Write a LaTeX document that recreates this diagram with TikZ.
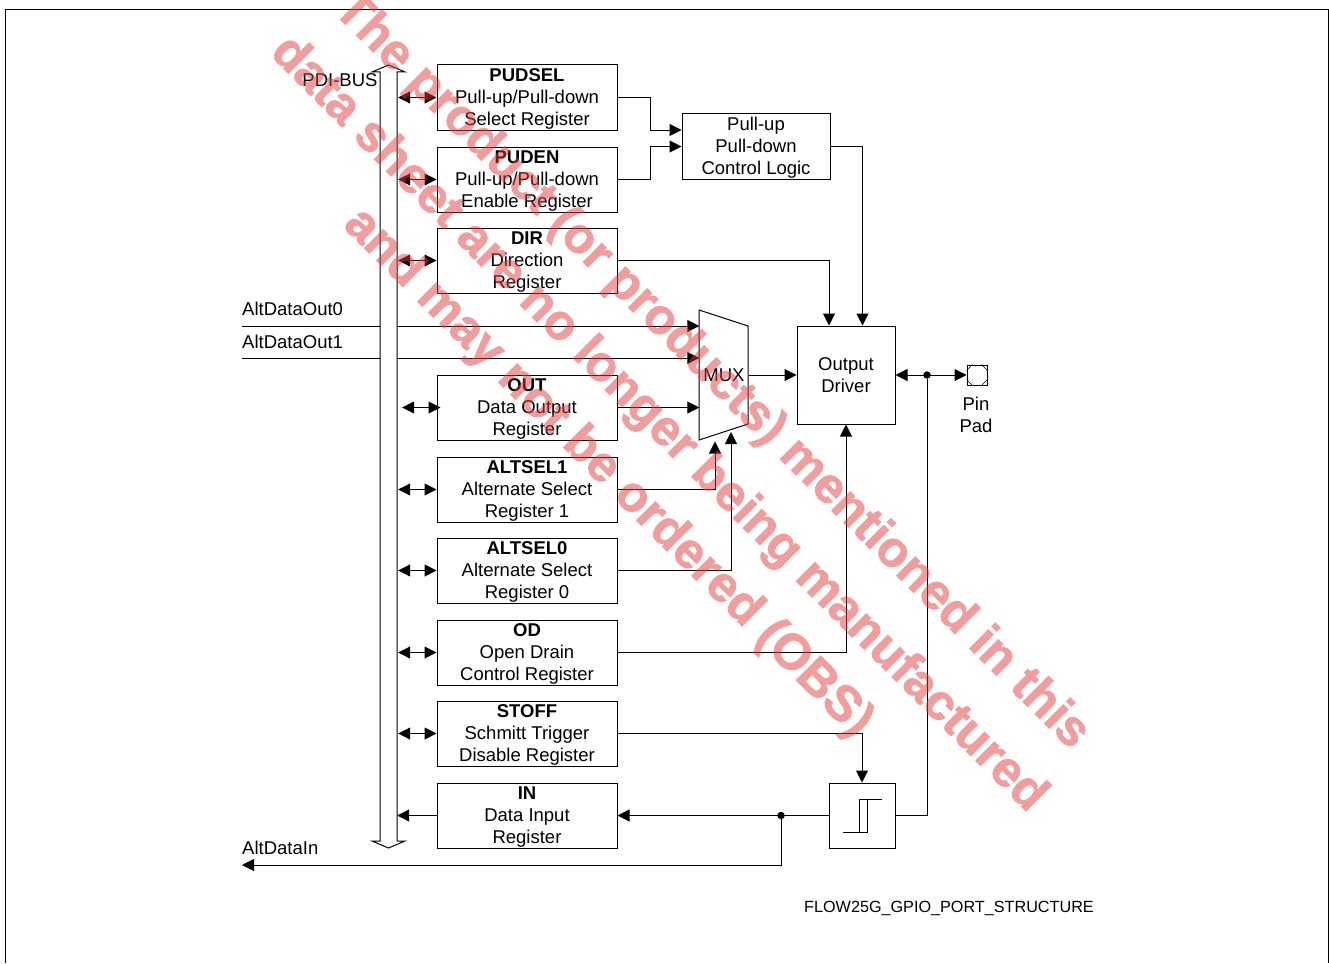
\documentclass[tikz,border=0pt]{standalone}
\usepackage{fontspec}
\setmainfont{Liberation Sans}
\newfontfamily\stampfont[BoldFeatures={FakeBold=1.6}]{Liberation Sans}
\usepackage{tikz}
\usetikzlibrary{arrows.meta,calc,positioning}
\definecolor{stampred}{RGB}{230,60,60}
\tikzset{
  every node/.style={font=\fontsize{18.5}{22}\selectfont},
  regbox/.style={draw,line width=1pt,minimum width=180,minimum height=65,inner sep=0pt,align=center,text height=60},
  blockbox/.style={draw,line width=1pt,inner sep=0pt,align=center},
  wire/.style={line width=1pt},
  dot/.style={circle,fill,inner sep=0pt,minimum size=7.5},
  stamp/.style={rotate=-45,anchor=base west,inner sep=0pt,text=stampred,
    font=\fontsize{50.2}{60}\stampfont\bfseries}
}
\tikzstyle{arrow} = [wire,-{Triangle[length=12,width=12]}]
\tikzstyle{twoway} = [wire,{Triangle[length=12,width=12]}-{Triangle[length=12,width=12]}]

\begin{document}
\begin{tikzpicture}[x=1pt,y=-1pt]
  \useasboundingbox (0,0) rectangle (1329,963);

  \draw[line width=1pt] (5,963) -- (5,10) -- (1328,10) -- (1328,963);

  % registers
  \node[regbox] (pudsel) at (527,97.5) {\textbf{PUDSEL}\\Pull-up/Pull-down\\Select Register};
  \node[regbox] (puden) at (527,179.5) {\textbf{PUDEN}\\Pull-up/Pull-down\\Enable Register};
  \node[regbox] (dirreg) at (527,260.5) {\textbf{DIR}\\Direction\\Register};
  \node[regbox] (outreg) at (527,407.5) {\textbf{OUT}\\Data Output\\Register};
  \node[regbox] (altselone) at (527,489.5) {\textbf{ALTSEL1}\\Alternate Select\\Register 1};
  \node[regbox] (altselzero) at (527,570.5) {\textbf{ALTSEL0}\\Alternate Select\\Register 0};
  \node[regbox] (odreg) at (527,652.5) {\textbf{OD}\\Open Drain\\Control Register};
  \node[regbox] (stoff) at (527,733.5) {\textbf{STOFF}\\Schmitt Trigger\\Disable Register};
  \node[regbox] (inreg) at (527,815.5) {\textbf{IN}\\Data Input\\Register};

  % right side blocks
  \node[blockbox,minimum width=148,minimum height=65,text height=60] (ctrl) at (756,146.5) {Pull-up\\Pull-down\\Control Logic};
  \node[blockbox,minimum width=98,minimum height=98] (driver) at (846,375) {Output\\Driver};
  \node[blockbox,minimum width=66,minimum height=65] (schmitt) at (862,815.5) {};
  \node[blockbox,minimum width=20,minimum height=20] (pad) at (977,375) {};
  \draw[line width=.6pt] (pad.north west) ++(0,6) -- ++(6,-6) (pad.north east) ++(-6,0) -- ++(6,6)
    (pad.south east) ++(0,-6) -- ++(-6,6) (pad.south west) ++(6,0) -- ++(-6,-6);
  \draw[line width=.8pt] (843,832) -- (867,832) -- (867,799.5) (882,799.5) -- (859,799.5) -- (859,832);

  % mux
  \node[inner sep=0pt,minimum width=49,minimum height=130] (mux) at (724,375) {MUX};
  \draw[line width=1pt] (699,310) -- (748,326) -- (748,424) -- (699,440) -- cycle;

  % free ends
  \coordinate (outzero) at (242,326);
  \coordinate (outone) at (242,358);
  \coordinate (altin) at (242,865);

  \draw[arrow] (outzero) -- (outzero -| mux.west);
  \draw[arrow] (outone) -- (outone -| mux.west);

  % bus
  \node[inner sep=0pt,minimum width=17,minimum height=783] (bus) at (388.5,456.5) {};
  \draw[line width=1pt,fill=white] (380,72) -- (372,72) -- (388.5,65) -- (405,72) -- (397,72) -- (397,841)
    -- (405,841) -- (388.5,848) -- (372,841) -- (380,841) -- cycle;

  \foreach \r in {pudsel,puden,dirreg,altselone,altselzero,odreg,stoff}
    \draw[twoway] ([xshift=1]bus.east |- \r.west) -- (\r.west);
  \draw[twoway] ([xshift=5]bus.east |- outreg.west) -- ([xshift=4]outreg.west);
  \draw[arrow] (inreg.west) -- (bus.east |- inreg.west);

  \draw[arrow] (pudsel.east) -- ++(33,0) |- ([yshift=16.5]ctrl.west);
  \draw[arrow] (puden.east) -- ++(33,0) |- (ctrl.west);
  \draw[arrow] (ctrl.east) -| ([xshift=16.5]driver.north);
  \draw[arrow] (dirreg.east) -| ([xshift=-17]driver.north);
  \draw[arrow] (outreg.east) -- (mux.west |- outreg.east);
  \draw[arrow] (altselone.east) -| (715,441.5);
  \draw[arrow] (altselzero.east) -| (731,432);
  \draw[arrow] (odreg.east) -| (driver.south);
  \draw[arrow] (stoff.east) -| (schmitt.north);
  \draw[arrow] (mux.east) -- (driver.west);

  \node[dot] (dotpad) at (927,375) {};
  \node[dot] (dotin) at (781,815.5) {};
  \draw[twoway] (driver.east) -- (pad.west);
  \draw[wire] (schmitt.east) -| (dotpad);
  \draw[arrow] (schmitt.west) -- (inreg.east);
  \draw[arrow] (dotin) |- (altin);

  % labels
  \node (pdibus) at (340,80) {PDI-BUS};
  \node[anchor=west,inner sep=0pt] (lblzero) at (242,309) {AltDataOut0};
  \node[anchor=west,inner sep=0pt] (lblone) at (242,342) {AltDataOut1};
  \node[anchor=west,inner sep=0pt] (lblin) at (242,847.5) {AltDataIn};
  \node[align=center,inner sep=0pt] (padlbl) at (976,415) {Pin\\Pad};
  \node[anchor=west,inner sep=0pt,font=\fontsize{16.2}{18}\selectfont] (flowname) at (804,908) {FLOW25G\_GPIO\_PORT\_STRUCTURE};

  % stamp
  \begin{scope}[transparency group,opacity=.5]
    \node[stamp] (stampa) at (332,11) {The product (or products) mentioned in this};
    \node[stamp] (stampb) at (269,54) {data sheet are no longer being manufactured};
    \node[stamp] (stampc) at (342,226) {and may not be ordered (OBS)};
  \end{scope}
\end{tikzpicture}
\end{document}
